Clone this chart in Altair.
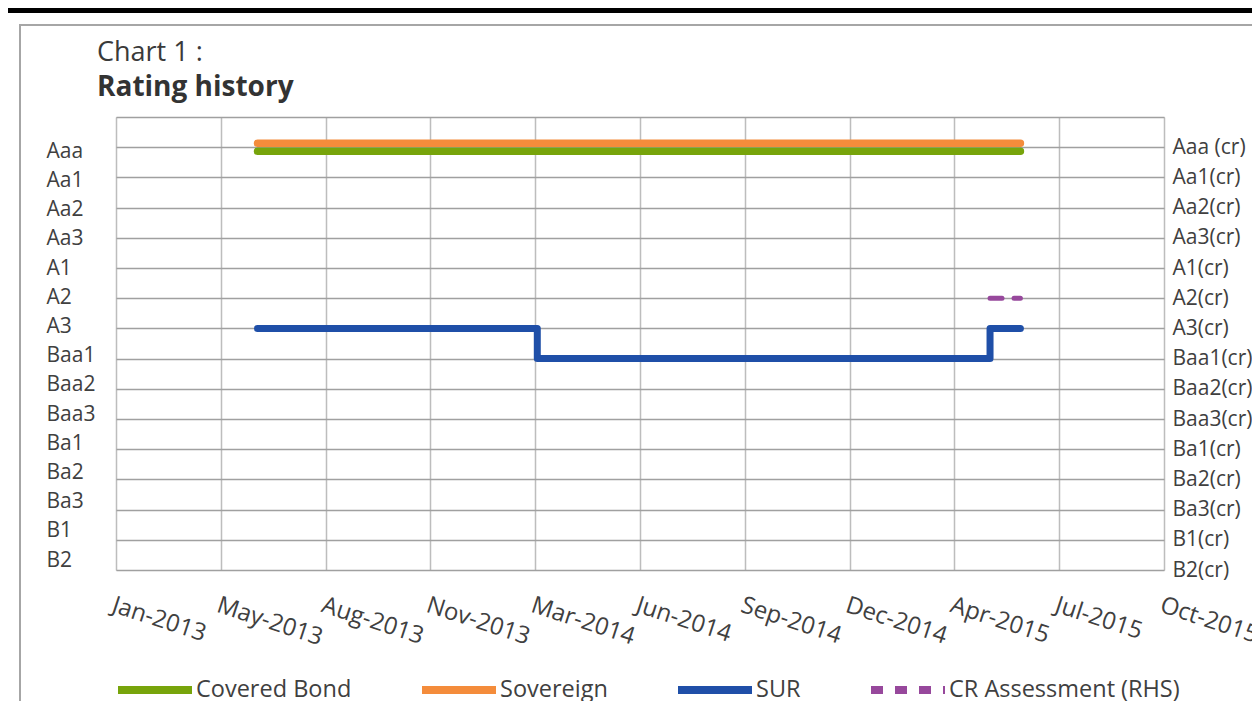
import altair as alt
import pandas as pd

title_line1 = "Chart 1 :"
title_line2 = "Rating history"

ratings = ["Aaa", "Aa1", "Aa2", "Aa3", "A1", "A2", "A3", "Baa1", "Baa2", "Baa3",
           "Ba1", "Ba2", "Ba3", "B1", "B2"]
cr_labels = ["Aaa (cr)", "Aa1(cr)", "Aa2(cr)", "Aa3(cr)", "A1(cr)", "A2(cr)", "A3(cr)",
             "Baa1(cr)", "Baa2(cr)", "Baa3(cr)", "Ba1(cr)", "Ba2(cr)", "Ba3(cr)",
             "B1(cr)", "B2(cr)"]
tick_dates = ["2013-01-26", "2013-05-06", "2013-08-14", "2013-11-22", "2014-03-02",
              "2014-06-10", "2014-09-18", "2014-12-27", "2015-04-06", "2015-07-15",
              "2015-10-23"]
series_names = ["Covered Bond", "Sovereign", "SUR", "CR Assessment (RHS)"]
series_colors = ["#77A40B", "#F48C3B", "#1F4FA8", "#97489C"]

covered_dates = ["2013-06-10", "2015-06-08"]
covered_ratings = ["Aaa", "Aaa"]
sovereign_dates = ["2013-06-10", "2015-06-08"]
sovereign_ratings = ["Aaa", "Aaa"]
sur_dates = ["2013-06-10", "2014-03-04", "2014-03-04", "2015-05-10", "2015-05-10", "2015-06-08"]
sur_ratings = ["A3", "A3", "Baa1", "Baa1", "A3", "A3"]
cr_dates = ["2015-05-10", "2015-06-08"]
cr_ratings = ["A2", "A2"]

FONT = "Open Sans"
TXT = "#404040"


def frame(name, dates, rats):
    return pd.DataFrame({
        "series": name,
        "date": dates,
        "rating": rats,
        "level": [ratings.index(r) + 1 for r in rats],
        "order": list(range(len(dates))),
    })


df = pd.concat([
    frame(series_names[0], covered_dates, covered_ratings),
    frame(series_names[1], sovereign_dates, sovereign_ratings),
    frame(series_names[2], sur_dates, sur_ratings),
    frame(series_names[3], cr_dates, cr_ratings),
], ignore_index=True)


def ms(s):
    return int(pd.Timestamp(s, tz="UTC").value // 10**6)


tick_ms = [ms(d) for d in tick_dates]

x_enc = alt.X(
    "date:T",
    scale=alt.Scale(type="utc", domain=[tick_ms[0], tick_ms[-1]], nice=False),
    axis=alt.Axis(values=tick_ms, format="%b-%Y", title=None, grid=True,
                  gridColor="#bdbdbd", gridWidth=1.5, domain=False, ticks=False,
                  tickSize=0, labelAngle=18, labelAlign="left", labelBaseline="top",
                  labelPadding=23, labelFont=FONT, labelFontSize=24, labelColor=TXT,
                  labelOverlap=False, labelFlush=False, labelBound=False),
)

left_expr = "[''," + ",".join("'%s'" % r for r in ratings) + "][datum.value]"
right_expr = "[''," + ",".join("'%s'" % r for r in cr_labels) + "][datum.value]"

y_left = alt.Y(
    "level:Q",
    scale=alt.Scale(domain=[-0.174, 15.34], reverse=True, nice=False, zero=False),
    axis=alt.Axis(orient="left", values=list(range(1, 16)), labelExpr=left_expr,
                  grid=False, domain=False, ticks=False, tickSize=0, labelAlign="left",
                  labelPadding=70, labelFont=FONT, labelFontSize=21, labelColor=TXT,
                  labelOverlap=False, labelFlush=False, title=None),
)
y_right = alt.Y(
    "level:Q",
    scale=alt.Scale(domain=[0, 15], reverse=True, nice=False, zero=False),
    axis=alt.Axis(orient="right", values=list(range(0, 16)), labelExpr=right_expr,
                  grid=True, gridColor="#a0a0a0", gridWidth=1.6, domain=False,
                  ticks=False, tickSize=0, labelPadding=8, labelFont=FONT,
                  labelFontSize=21, labelColor=TXT, labelOverlap=False,
                  labelFlush=False, title=None),
)

legend = alt.Legend(orient="none", legendX=-2, legendY=532, direction="horizontal",
                    columns=4, symbolType="stroke", symbolSize=5476,
                    symbolStrokeWidth=8, labelFont=FONT, labelFontSize=23.5,
                    labelColor=TXT, labelOffset=0, columnPadding=54, title=None,
                    padding=0, labelLimit=500)

color_enc = alt.Color("series:N", scale=alt.Scale(domain=series_names, range=series_colors),
                      legend=legend)
dash_enc = alt.StrokeDash("series:N",
                          scale=alt.Scale(domain=series_names,
                                          range=[[1, 0], [1, 0], [1, 0], [12, 12]]),
                          legend=legend)

base = alt.Chart(df)

covered = base.transform_filter(alt.datum.series == series_names[0]).mark_line(
    strokeWidth=7.5, strokeCap="round").encode(
    x=x_enc, y=y_left, color=color_enc, strokeDash=dash_enc, order="order:Q")

sov = base.transform_filter(alt.datum.series == series_names[1]).mark_line(
    strokeWidth=7.5, strokeCap="round", yOffset=-4).encode(
    x=x_enc, y=y_right, color=color_enc, strokeDash=dash_enc, order="order:Q")

sur = base.transform_filter(alt.datum.series == series_names[2]).mark_line(
    strokeWidth=7, strokeCap="round", strokeJoin="round").encode(
    x=x_enc, y=y_right, color=color_enc, strokeDash=dash_enc, order="order:Q")

cr = base.transform_filter(alt.datum.series == series_names[3]).mark_line(
    strokeWidth=5, strokeCap="round").encode(
    x=x_enc, y=y_right, color=color_enc, strokeDash=dash_enc, order="order:Q")

one = pd.DataFrame({"k": [0]})
box = alt.Chart(one).mark_rect(filled=False, stroke="#a6a6a6", strokeWidth=2).encode(
    x=alt.value(-96), x2=alt.value(1400), y=alt.value(-92), y2=alt.value(900))
topline = alt.Chart(one).mark_rect(color="#000000").encode(
    x=alt.value(-120), x2=alt.value(1400), y=alt.value(-109), y2=alt.value(-104))

t1 = alt.Chart(pd.DataFrame({"t": [title_line1]})).mark_text(
    align="left", baseline="alphabetic", font=FONT, fontSize=27, color="#3a3a3a").encode(
    text="t:N", x=alt.value(-19), y=alt.value(-56))
t2 = alt.Chart(pd.DataFrame({"t": [title_line2]})).mark_text(
    align="left", baseline="alphabetic", font=FONT, fontSize=28, fontWeight="bold",
    color="#333333").encode(
    text="t:N", x=alt.value(-19), y=alt.value(-21))

chart = alt.layer(
    box, topline, t1, t2, covered, alt.layer(sov, sur, cr)
).resolve_scale(y="independent").properties(
    width=1048, height=453,
    autosize=alt.AutoSizeParams(type="none"),
    padding={"left": 108, "top": 109, "right": 88, "bottom": 150},
).configure_view(stroke="transparent").configure(background="white")

chart.save("out.html", embed_options={"renderer": "svg", "actions": False})
